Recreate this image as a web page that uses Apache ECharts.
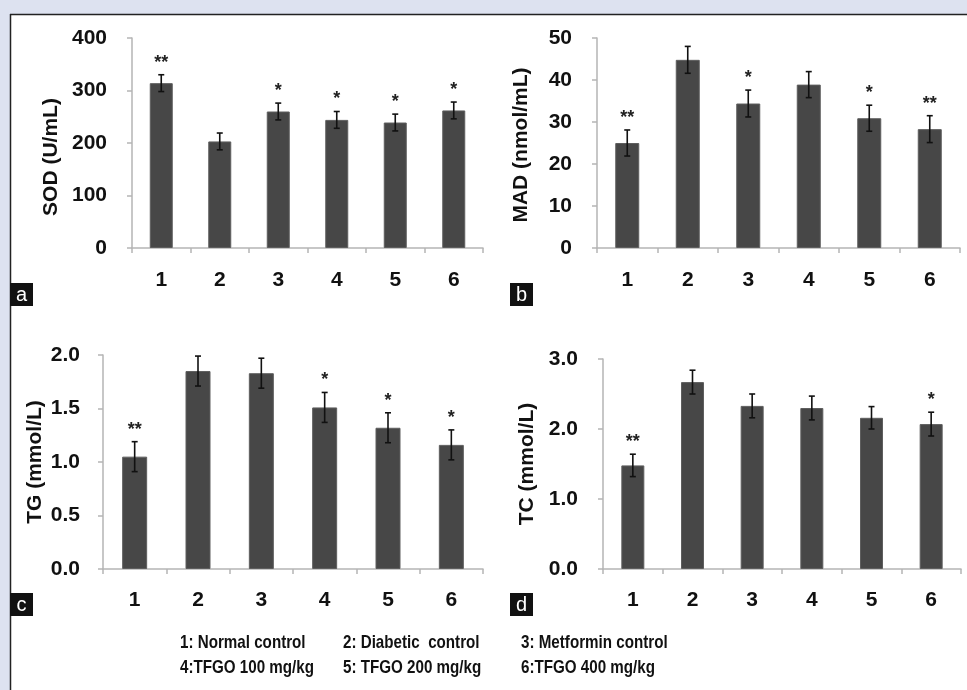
<!DOCTYPE html>
<html>
<head>
<meta charset="utf-8">
<script src="https://cdn.jsdelivr.net/npm/echarts@6/dist/echarts.min.js"></script>
<style>
html,body{margin:0;padding:0;background:#dde2f0;}
#c{width:967px;height:690px;}
</style>
</head>
<body>
<div id="c"></div>
<script>
// ---- data ----
const categories = ['1','2','3','4','5','6'];
const sodValues = [314, 203, 260, 244, 239, 262];
const sodErrors = [16, 16, 16, 16, 16, 16];
const sodStars = ['**', '', '*', '*', '*', '*'];
const madValues = [25, 44.8, 34.4, 38.9, 30.9, 28.3];
const madErrors = [3.1, 3.2, 3.2, 3.1, 3.1, 3.2];
const madStars = ['**', '', '*', '', '*', '**'];
const tgValues = [1.05, 1.85, 1.83, 1.51, 1.32, 1.16];
const tgErrors = [0.14, 0.14, 0.14, 0.14, 0.14, 0.14];
const tgStars = ['**', '', '', '*', '*', '*'];
const tcValues = [1.48, 2.67, 2.33, 2.30, 2.16, 2.07];
const tcErrors = [0.16, 0.17, 0.17, 0.17, 0.16, 0.17];
const tcStars = ['**', '', '', '', '', '*'];
const yNames = ['SOD (U/mL)', 'MAD (nmol/mL)', 'TG (mmol/L)', 'TC (mmol/L)'];
const yMax = [400, 50, 2.0, 3.0];
const yInterval = [100, 10, 0.5, 1.0];
const yDecimals = [0, 0, 1, 1];
const panelLetters = ['a', 'b', 'c', 'd'];
const legendLines = [
  ['1: Normal control', '2: Diabetic  control', '3: Metformin control'],
  ['4:TFGO 100 mg/kg', '5: TFGO 200 mg/kg', '6:TFGO 400 mg/kg']
];

const values = [sodValues, madValues, tgValues, tcValues];
const errors = [sodErrors, madErrors, tgErrors, tcErrors];
const stars = [sodStars, madStars, tgStars, tcStars];

// ---- layout ----
const grids = [
  {left: 132, top: 38, width: 351, height: 210},
  {left: 597, top: 38, width: 363, height: 210},
  {left: 103, top: 355, width: 380, height: 214},
  {left: 603, top: 359, width: 358, height: 210}
];
const barWidths = [23, 24, 25, 23];
const nameGaps = [70, 65, 57, 65];
const namePad = [[0, 28, 0, 0], [0, 4, 0, 0], [0, 0, 0, 0], [0, 0, 0, 0]];
const yLabelMargins = [25, 25, 23, 25];
const xLabelMargins = [22, 22, 21, 21];
const letterBoxes = [[10, 283], [510, 283], [10, 593], [510, 593]];
const FONT = '"Liberation Sans", Arial, sans-serif';
const TXT = '#111';

const chart = echarts.init(document.getElementById('c'), null, {renderer: 'canvas'});

const xAxes = [], yAxes = [], series = [];
for (let i = 0; i < 4; i++) {
  xAxes.push({
    type: 'category', gridIndex: i, data: categories,
    axisLine: {lineStyle: {color: '#b5b5b5', width: 1.5}},
    axisTick: {show: true, length: 5, lineStyle: {color: '#b5b5b5', width: 1.5}},
    axisLabel: {color: TXT, fontFamily: FONT, fontWeight: 'bold', fontSize: 21, margin: xLabelMargins[i]}
  });
  const dec = yDecimals[i];
  yAxes.push({
    type: 'value', gridIndex: i, min: 0, max: yMax[i], interval: yInterval[i],
    name: yNames[i], nameLocation: 'middle', nameGap: nameGaps[i],
    nameTextStyle: {color: TXT, fontFamily: FONT, fontWeight: 'bold', fontSize: 21, padding: namePad[i]},
    axisLine: {show: true, lineStyle: {color: '#b5b5b5', width: 1.5}},
    axisTick: {show: true, length: 5, lineStyle: {color: '#b5b5b5', width: 1.5}},
    splitLine: {show: false},
    axisLabel: {color: TXT, fontFamily: FONT, fontWeight: 'bold', fontSize: 21, margin: yLabelMargins[i],
      formatter: v => Number(v).toFixed(dec)}
  });
  series.push({
    type: 'bar', xAxisIndex: i, yAxisIndex: i, data: values[i], barWidth: barWidths[i],
    itemStyle: {color: '#474747', borderColor: '#5e5e5e', borderWidth: 1},
    silent: true, animation: false
  });
  const st = stars[i];
  series.push({
    type: 'custom', xAxisIndex: i, yAxisIndex: i, animation: false, silent: true, z: 5,
    data: values[i].map((v, k) => [k, v, errors[i][k]]),
    renderItem: function (params, api) {
      const x = api.value(0), v = api.value(1), e = api.value(2);
      const top = api.coord([x, v + e]);
      const bot = api.coord([x, v - e]);
      const hw = 3;
      const ls = {stroke: '#111', lineWidth: 1.6};
      return {
        type: 'group', children: [
          {type: 'line', shape: {x1: top[0], y1: top[1], x2: bot[0], y2: bot[1]}, style: ls},
          {type: 'line', shape: {x1: top[0] - hw, y1: top[1], x2: top[0] + hw, y2: top[1]}, style: ls},
          {type: 'line', shape: {x1: bot[0] - hw, y1: bot[1], x2: bot[0] + hw, y2: bot[1]}, style: ls},
          {type: 'text', x: top[0], y: top[1] - 3,
            style: {text: st[params.dataIndex], fill: '#222', font: 'bold 18px ' + FONT,
              textAlign: 'center', textVerticalAlign: 'bottom'}}
        ]
      };
    }
  });
}

const graphic = [
  {type: 'rect', shape: {x: 10, y: 14, width: 957, height: 676}, style: {fill: '#fff'}, z: -10},
  {type: 'line', shape: {x1: 10, y1: 14.5, x2: 967, y2: 14.5}, style: {stroke: '#222', lineWidth: 1.5}, z: -9},
  {type: 'line', shape: {x1: 10.5, y1: 14, x2: 10.5, y2: 690}, style: {stroke: '#222', lineWidth: 1.5}, z: -9}
];
letterBoxes.forEach((p, i) => {
  graphic.push({type: 'rect', shape: {x: p[0], y: p[1], width: 23, height: 23}, style: {fill: '#111'}, z: 10});
  graphic.push({type: 'text', x: p[0] + 11.5, y: p[1] + 12,
    style: {text: panelLetters[i], fill: '#fff', font: '20px ' + FONT, textAlign: 'center', textVerticalAlign: 'middle'}, z: 11});
});
const legX = [180, 343, 521];
const legY = [643, 668];
legendLines.forEach((row, r) => {
  row.forEach((t, c) => {
    graphic.push({type: 'text', x: legX[c], y: legY[r], scaleX: 0.82,
      style: {text: t, fill: TXT, font: 'bold 18.5px ' + FONT,
        textAlign: 'left', textVerticalAlign: 'middle'}});
  });
});

chart.setOption({
  animation: false,
  backgroundColor: 'transparent',
  grid: grids,
  xAxis: xAxes,
  yAxis: yAxes,
  series: series,
  graphic: graphic
});
</script>
</body>
</html>
